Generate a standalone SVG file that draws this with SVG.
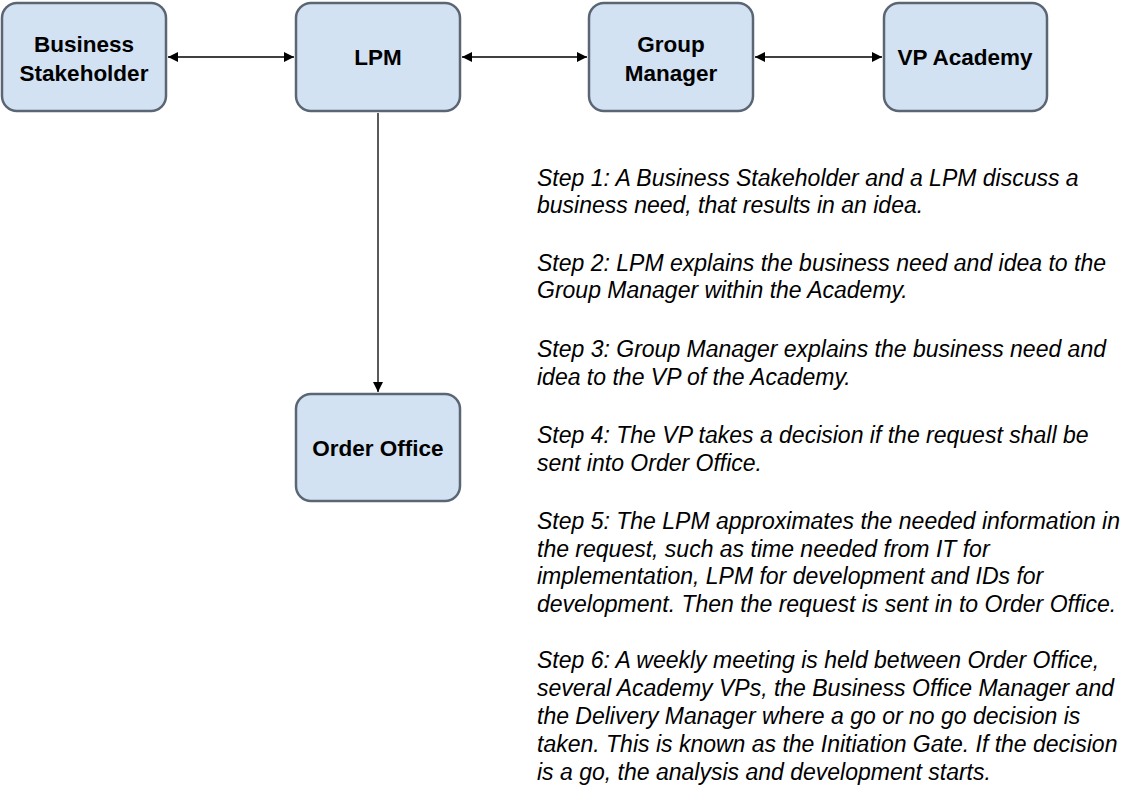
<svg xmlns="http://www.w3.org/2000/svg" width="1125" height="787" viewBox="0 0 1125 787">
  <defs>
    <marker id="arrow" viewBox="0 0 10 10" refX="10" refY="5" markerWidth="10" markerHeight="10" markerUnits="userSpaceOnUse" orient="auto-start-reverse">
      <path d="M0,0 L10,5 L0,10 Z" fill="#000"/>
    </marker>
    <style>
      .box { fill: #d3e2f2; stroke: #5b6675; stroke-width: 2.5; }
      .label { font-family: "Liberation Sans", Arial, sans-serif; font-weight: bold; font-size: 22.5px; fill: #000; text-anchor: middle; }
      .link { stroke: #000; stroke-width: 1.3; fill: none; }
      .note { font-family: "Liberation Sans", Arial, sans-serif; font-style: italic; font-size: 23px; fill: #000; }
    </style>
  </defs>
  <rect width="1125" height="787" fill="#fff"/>

  <g id="connectors">
    <line class="link" x1="168" y1="57" x2="294" y2="57" marker-start="url(#arrow)" marker-end="url(#arrow)"/>
    <line class="link" x1="462" y1="57" x2="587" y2="57" marker-start="url(#arrow)" marker-end="url(#arrow)"/>
    <line class="link" x1="755" y1="57" x2="882" y2="57" marker-start="url(#arrow)" marker-end="url(#arrow)"/>
    <line class="link" x1="378" y1="113" x2="378" y2="392" marker-end="url(#arrow)"/>
  </g>

  <g id="business-stakeholder">
    <rect class="box" x="2" y="3" width="164" height="108" rx="15"/>
    <text class="label" x="84" y="52">Business</text>
    <text class="label" x="84" y="81">Stakeholder</text>
  </g>
  <g id="lpm">
    <rect class="box" x="296" y="3" width="164" height="108" rx="15"/>
    <text class="label" x="378" y="65">LPM</text>
  </g>
  <g id="group-manager">
    <rect class="box" x="589" y="3" width="164" height="108" rx="15"/>
    <text class="label" x="671" y="52">Group</text>
    <text class="label" x="671" y="81">Manager</text>
  </g>
  <g id="vp-academy">
    <rect class="box" x="884" y="3" width="163" height="108" rx="15"/>
    <text class="label" x="965" y="65">VP Academy</text>
  </g>
  <g id="order-office">
    <rect class="box" x="296" y="394" width="164" height="107" rx="15"/>
    <text class="label" x="378" y="456">Order Office</text>
  </g>

  <g id="steps">
    <text class="note" x="537" y="186">Step 1: A Business Stakeholder and a LPM discuss a</text>
    <text class="note" x="537" y="213">business need, that results in an idea.</text>
    <text class="note" x="537" y="271">Step 2: LPM explains the business need and idea to the</text>
    <text class="note" x="537" y="298">Group Manager within the Academy.</text>
    <text class="note" x="537" y="357">Step 3: Group Manager explains the business need and</text>
    <text class="note" x="537" y="385">idea to the VP of the Academy.</text>
    <text class="note" x="537" y="443">Step 4: The VP takes a decision if the request shall be</text>
    <text class="note" x="537" y="471">sent into Order Office.</text>
    <text class="note" x="537" y="529">Step 5: The LPM approximates the needed information in</text>
    <text class="note" x="537" y="557">the request, such as time needed from IT for</text>
    <text class="note" x="537" y="584">implementation, LPM for development and IDs for</text>
    <text class="note" x="537" y="612">development. Then the request is sent in to Order Office.</text>
    <text class="note" x="537" y="668">Step 6: A weekly meeting is held between Order Office,</text>
    <text class="note" x="537" y="696">several Academy VPs, the Business Office Manager and</text>
    <text class="note" x="537" y="724">the Delivery Manager where a go or no go decision is</text>
    <text class="note" x="537" y="752">taken. This is known as the Initiation Gate. If the decision</text>
    <text class="note" x="537" y="780">is a go, the analysis and development starts.</text>
  </g>
</svg>
